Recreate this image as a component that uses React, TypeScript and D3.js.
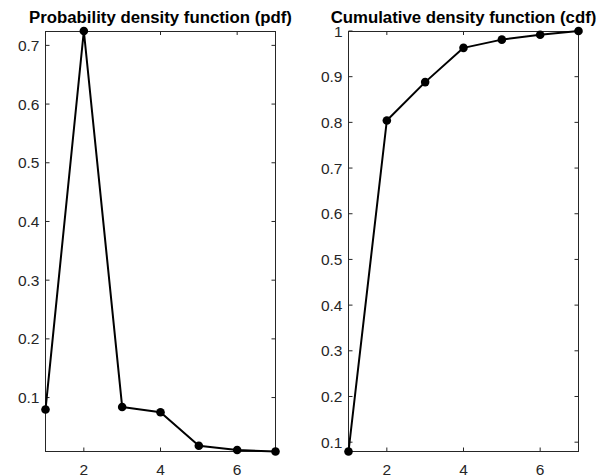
import React from "react";
import * as d3 from "d3";

const xValues = [1, 2, 3, 4, 5, 6, 7];
const pdfValues = [0.0796, 0.7245, 0.084, 0.075, 0.018, 0.0107, 0.0081];
const cdfValues = [0.0796, 0.8041, 0.8881, 0.9631, 0.9811, 0.9918, 1.0];
const xTicks = [2, 4, 6];
const pdfTicks = [0.1, 0.2, 0.3, 0.4, 0.5, 0.6, 0.7];
const cdfTicks = [0.1, 0.2, 0.3, 0.4, 0.5, 0.6, 0.7, 0.8, 0.9, 1];

const W = 609;
const H = 476;
const axisColor = "#262626";
const font = "'Liberation Sans', Arial, Helvetica, sans-serif";

type PanelProps = {
  title: string;
  values: number[];
  yTicks: number[];
  left: number;
  right: number;
  top: number;
  bottom: number;
};

function Panel({ title, values, yTicks, left, right, top, bottom }: PanelProps) {
  const x = d3.scaleLinear().domain([1, 7]).range([left, right]);
  const y = d3
    .scaleLinear()
    .domain([d3.min(values)!, d3.max(values)!])
    .range([bottom, top]);
  const line = d3
    .line<number>()
    .x((_, i) => x(xValues[i]))
    .y((d) => y(d));
  const tick = 4;

  return (
    <g>
      <rect
        x={left}
        y={top}
        width={right - left}
        height={bottom - top}
        fill="#fff"
        stroke={axisColor}
        strokeWidth={1}
        shapeRendering="crispEdges"
      />
      {xTicks.map((t) => (
        <g key={"x" + t}>
          <line x1={x(t)} x2={x(t)} y1={bottom} y2={bottom - tick} stroke={axisColor} />
          <line x1={x(t)} x2={x(t)} y1={top} y2={top + tick} stroke={axisColor} />
          <text
            x={x(t)}
            y={bottom + 23}
            textAnchor="middle"
            fontSize={15.5}
            fill={axisColor}
            fontFamily={font}
          >
            {t}
          </text>
        </g>
      ))}
      {yTicks.map((t) => (
        <g key={"y" + t}>
          <line x1={left} x2={left + tick} y1={y(t)} y2={y(t)} stroke={axisColor} />
          <line x1={right} x2={right - tick} y1={y(t)} y2={y(t)} stroke={axisColor} />
          <text
            x={left - 6}
            y={y(t)}
            dy="0.36em"
            textAnchor="end"
            fontSize={15.5}
            fill={axisColor}
            fontFamily={font}
          >
            {String(t)}
          </text>
        </g>
      ))}
      <path d={line(values) ?? ""} fill="none" stroke="#000" strokeWidth={2} strokeLinejoin="round" />
      {values.map((v, i) => (
        <circle key={i} cx={x(xValues[i])} cy={y(v)} r={4.3} fill="#000" />
      ))}
      <text
        x={(left + right) / 2}
        y={top - 8}
        textAnchor="middle"
        fontSize={16.8}
        fontWeight="bold"
        fill="#000"
        fontFamily={font}
      >
        {title}
      </text>
    </g>
  );
}

export default function App() {
  return (
    <svg width={W} height={H} style={{ position: "absolute", left: 0, top: 0 }}>
      <rect width={W} height={H} fill="#fff" />
      <Panel
        title="Probability density function (pdf)"
        values={pdfValues}
        yTicks={pdfTicks}
        left={45.5}
        right={275.5}
        top={31}
        bottom={451.5}
      />
      <Panel
        title="Cumulative density function (cdf)"
        values={cdfValues}
        yTicks={cdfTicks}
        left={348.5}
        right={578.5}
        top={31}
        bottom={451.5}
      />
    </svg>
  );
}
